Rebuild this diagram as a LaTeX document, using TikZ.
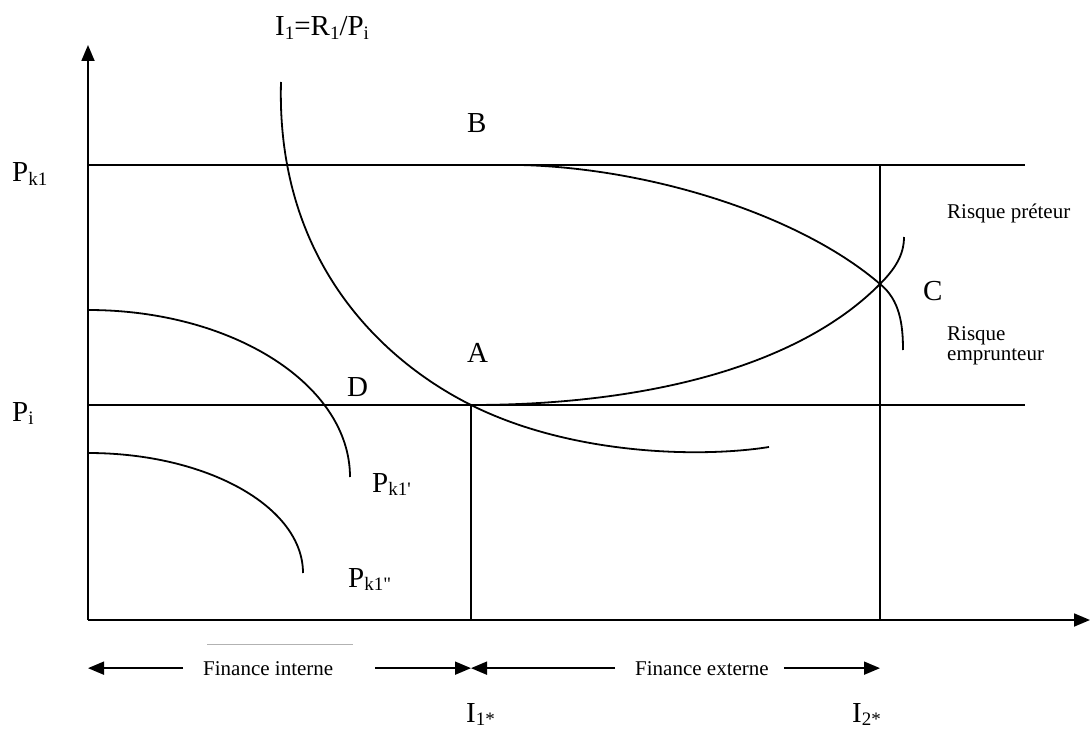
\documentclass[tikz,border=0pt]{standalone}
\usepackage{fontspec}
\setmainfont{Liberation Serif}[Ligatures=TeXOff]
\usepackage{tikz}
\usetikzlibrary{
	arrows.meta,
	calc
}
\newcommand{\petit}[1]{\raisebox{-0.12em}{\fontsize{19}{19}\selectfont #1}}
\tikzset{
	trait/.style={line width=1.8pt},
	fleche/.style={line width=1.8pt, -{Triangle[length=16pt,width=13pt]}},
	grand/.style={font=\fontsize{29}{31}\selectfont, inner sep=0pt, anchor=base west},
	texte/.style={font=\fontsize{21}{20}\selectfont, inner sep=0pt, anchor=base west}
}

\begin{document}
\begin{tikzpicture}[x=1pt, y=-1pt]
		\useasboundingbox (0,0) rectangle (1090,733);
		\coordinate (O) at (88,620);
		\coordinate (ytop) at (88,45);
		\coordinate (xbout) at (1090,620);
		\coordinate (A) at (471,405);
		\coordinate (B) at (520,165);
		\coordinate (C) at (880,284);
		\coordinate (I1) at (471,620);
		\coordinate (I2) at (880,620);
		\coordinate (PkG) at (88,165);
		\coordinate (PkD) at (1025,165);
		\coordinate (PiG) at (88,405);
		\coordinate (PiD) at (1025,405);
		\draw[fleche] (O) -- (ytop);
		\draw[fleche] (O) -- (xbout);
		\draw[trait] (PkG) -- (PkD);
		\draw[trait] (PiG) -- (PiD);
		\draw[trait] (I1) -- (A);
		\draw[trait] (I2) -- (I2 |- PkG);
		\draw[trait] (281,82) .. controls (276,260) and (381,360) .. (A) .. controls (571,455) and (700,458) .. (769,447);
		\draw[trait] (B) .. controls (650,168) and (800,215) .. (C) .. controls (900,300) and (903,325) .. (903,350);
		\draw[trait] (A) .. controls (650,405) and (800,365) .. (C) .. controls (895,269) and (904,255) .. (904,237);
		\draw[trait] (88,310) .. controls (232.7,310) and (350,384.8) .. (350,477);
		\draw[trait] (88,453) .. controls (206.7,453) and (303,506.7) .. (303,573);
		\draw[gray!60, line width=0.8pt] (207,644) -- (353,644);
		\node[grand] (lbI) at (275,36) {I\petit{1}=R\petit{1}/P\petit{i}};
		\node[grand] (lbPk) at (12,182) {P\petit{k1}};
		\node[grand] (lbPi) at (12,421) {P\petit{i}};
		\node[grand] (lbB) at (467,133) {B};
		\node[grand] (lbA) at (467,362) {A};
		\node[grand] (lbD) at (347,396) {D};
		\node[grand] (lbC) at (923,300) {C};
		\node[texte] (lbpret) at (947,218) {Risque préteur};
		\node[texte, align=left, anchor=north west] (lbemp) at (947,326) {Risque\\emprunteur};
		\node[grand] (lbPk1) at (372,492) {P\petit{k1'}};
		\node[grand] (lbPk2) at (348,587) {P\petit{k1"}};
		\node[texte] (lbint) at (203,675) {Finance interne};
		\node[texte] (lbext) at (635,675) {Finance externe};
		\draw[fleche] ([xshift=-20pt]lbint.west) -- (O |- lbint.west);
		\draw[fleche] ([xshift=42pt]lbint.east) -- (I1 |- lbint.east);
		\draw[fleche] ([xshift=-20pt]lbext.west) -- (I1 |- lbext.west);
		\draw[fleche] ([xshift=15pt]lbext.east) -- (I2 |- lbext.east);
		\node[grand] (lbI1) at (466,722) {I\petit{1*}};
		\node[grand] (lbI2) at (852,722) {I\petit{2*}};
	\end{tikzpicture}
\end{document}
